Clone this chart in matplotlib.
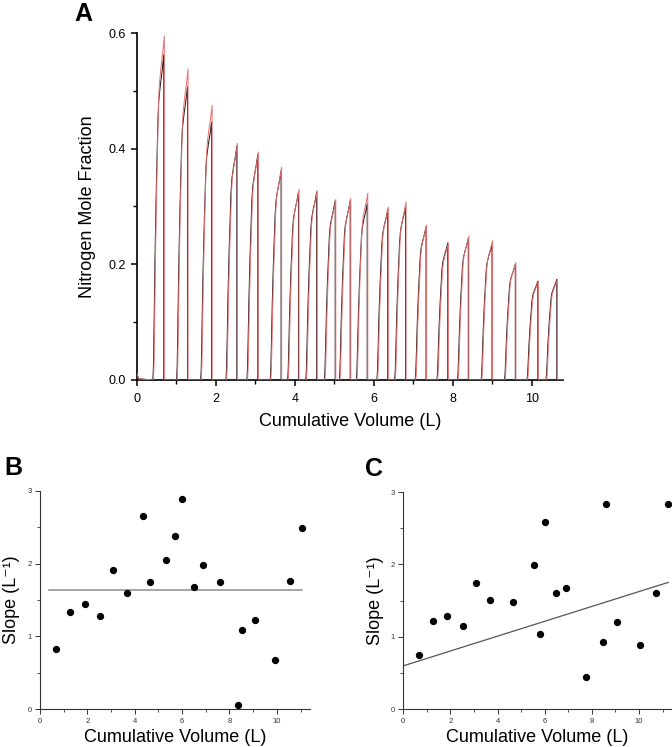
import numpy as np
import matplotlib
matplotlib.use("Agg")
import matplotlib.pyplot as plt
from matplotlib.ticker import MultipleLocator

plt.rcParams['font.family'] = ['Liberation Sans', 'DejaVu Sans']

# ---------------- data ----------------
# Panel A: washout peaks (end-of-expiration position, peak heights)
peak_end = [0.70, 1.30, 1.91, 2.55, 3.08, 3.67, 4.11, 4.57, 5.04, 5.42,
            5.85, 6.37, 6.82, 7.34, 7.89, 8.41, 9.01, 9.60, 10.17, 10.65]
peak_red = [0.595, 0.538, 0.475, 0.409, 0.394, 0.368, 0.330, 0.328, 0.312, 0.314,
            0.323, 0.299, 0.308, 0.268, 0.237, 0.249, 0.241, 0.203, 0.171, 0.174]
peak_black = [0.562, 0.507, 0.446, 0.405, 0.390, 0.362, 0.325, 0.325, 0.310, 0.310,
              0.305, 0.295, 0.300, 0.265, 0.237, 0.245, 0.235, 0.200, 0.171, 0.174]
peak_width = 0.28
# normalised expirogram profile (fraction of width, fraction of peak)
profile_u = [0.0, 0.03, 0.07, 0.12, 0.20, 0.30, 0.40, 0.47, 0.55, 0.70, 0.85, 1.0, 1.0]
profile_f = [0.0, 0.01, 0.05, 0.16, 0.36, 0.55, 0.70, 0.80, 0.86, 0.91, 0.95, 1.0, 0.0]

# Panel B
b_volume = [0.66, 1.27, 1.89, 2.54, 3.10, 3.68, 4.34, 4.65, 5.31, 5.68,
            5.99, 6.49, 6.90, 7.59, 8.34, 8.52, 9.08, 9.93, 10.56, 11.08]
b_slope = [0.83, 1.33, 1.45, 1.28, 1.91, 1.59, 2.65, 1.75, 2.05, 2.38,
           2.88, 1.68, 1.98, 1.75, 0.06, 1.09, 1.23, 0.67, 1.76, 2.49]
b_line_x = [0.40, 11.08]

# Panel C
c_volume = [0.65, 1.26, 1.87, 2.52, 3.08, 3.66, 4.64, 5.56, 5.78, 6.00,
            6.48, 6.89, 7.74, 8.49, 8.61, 9.05, 10.03, 10.72, 11.24]
c_slope = [0.745, 1.215, 1.29, 1.155, 1.74, 1.51, 1.48, 1.99, 1.04, 2.58,
           1.60, 1.67, 0.44, 0.925, 2.84, 1.205, 0.884, 1.60, 2.83]
c_fit_intercept = 0.60
c_fit_slope = 0.1025
c_line_x = [0.0, 11.24]

# ---------------- figure ----------------
W, H = 672, 747
fig = plt.figure(figsize=(W / 100, H / 100), dpi=100)


def px_axes(left, right, top, bottom):
    return fig.add_axes([left / W, 1 - bottom / H, (right - left) / W, (bottom - top) / H])


def build_trace(heights, shift):
    xs = [0.0, 0.05]
    ys = [0.012, 0.002]
    for e, h in zip(peak_end, heights):
        s = e - peak_width + shift
        for u, f in zip(profile_u, profile_f):
            xs.append(s + u * peak_width)
            ys.append(h * f)
    xs.append(10.8)
    ys.append(0.0)
    return np.array(xs), np.array(ys)


# Panel A
axA = px_axes(136.7, 563.3, 33, 380)
xr, yr = build_trace(peak_red, 0.0)
xb, yb = build_trace(peak_black, -0.015)
axA.plot(xb, yb, color='#2a1010', lw=0.7, zorder=2)
axA.plot(xr, yr, color='#e47070', lw=0.7, zorder=3)
axA.set_xlim(0, 10.8)
axA.set_ylim(0, 0.6)
axA.xaxis.set_major_locator(MultipleLocator(2))
axA.xaxis.set_minor_locator(MultipleLocator(1))
axA.yaxis.set_major_locator(MultipleLocator(0.2))
axA.yaxis.set_minor_locator(MultipleLocator(0.1))
axA.yaxis.set_major_formatter(matplotlib.ticker.FormatStrFormatter('%.1f'))
for s in ['top', 'right']:
    axA.spines[s].set_visible(False)
for s in ['left', 'bottom']:
    axA.spines[s].set_linewidth(1.2)
axA.tick_params(which='major', direction='out', length=4, width=1.1, labelsize=9, pad=4)
axA.tick_params(which='minor', direction='out', length=3, width=1.0)
axA.tick_params(axis='x', which='major', pad=5)
axA.set_xlabel('Cumulative Volume (L)', fontsize=13)
axA.xaxis.label.set_va('center')
axA.xaxis.set_label_coords(0.5, (380 - 421) / 347)
axA.set_ylabel('Nitrogen Mole Fraction', fontsize=13)
axA.yaxis.label.set_va('center')
axA.yaxis.set_label_coords((87 - 136.7) / 426.6, 0.5)
fig.text(83 / W, 1 - 14 / H, 'A', fontsize=18, fontweight='bold', ha='center', va='center')


def style_small(ax, xl_y, yl_x):
    for s in ['top', 'right']:
        ax.spines[s].set_visible(False)
    for s in ['left', 'bottom']:
        ax.spines[s].set_linewidth(0.8)
        ax.spines[s].set_color('#333333')
    ax.set_ylim(0, 3)
    ax.set_xlim(0, 11.4)
    ax.xaxis.set_major_locator(MultipleLocator(2))
    ax.xaxis.set_minor_locator(MultipleLocator(1))
    ax.yaxis.set_major_locator(MultipleLocator(1))
    ax.yaxis.set_minor_locator(MultipleLocator(0.5))
    ax.tick_params(which='major', direction='out', length=3.5, width=0.7,
                   labelsize=5.5, colors='#333333', pad=2.5)
    ax.tick_params(which='minor', direction='out', length=2, width=0.6, colors='#333333')
    ax.set_xlabel('Cumulative Volume (L)', fontsize=13)
    ax.xaxis.label.set_va('center')
    ax.xaxis.set_label_coords(0.5, xl_y)
    ax.set_ylabel('Slope (L\u207b\u00b9)', fontsize=13)
    ax.yaxis.label.set_va('center')
    ax.yaxis.set_label_coords(yl_x, 0.5)


# Panel B
axB = px_axes(40, 310, 490.7, 709.3)
axB.scatter(b_volume, b_slope, s=18, color='black', zorder=3, clip_on=False)
b_mean = np.mean(b_slope)
axB.plot(b_line_x, [b_mean, b_mean], color='#8c8c8c', lw=1.1, zorder=2)
style_small(axB, (709.3 - 737) / 218.6, (12 - 40) / 270)
fig.text(13 / W, 1 - 468 / H, 'B', fontsize=18, fontweight='bold', ha='center', va='center')

# Panel C
axC = px_axes(403.3, 672, 492, 709.3)
axC.scatter(c_volume, c_slope, s=18, color='black', zorder=3, clip_on=False)
cx = np.array(c_line_x)
axC.plot(cx, c_fit_intercept + c_fit_slope * cx, color='#555555', lw=0.9, zorder=2)
style_small(axC, (709.3 - 737) / 217.3, (375 - 403.3) / 268.7)
fig.text(374 / W, 1 - 469 / H, 'C', fontsize=18, fontweight='bold', ha='center', va='center')

fig.savefig('out.png', dpi=100)
